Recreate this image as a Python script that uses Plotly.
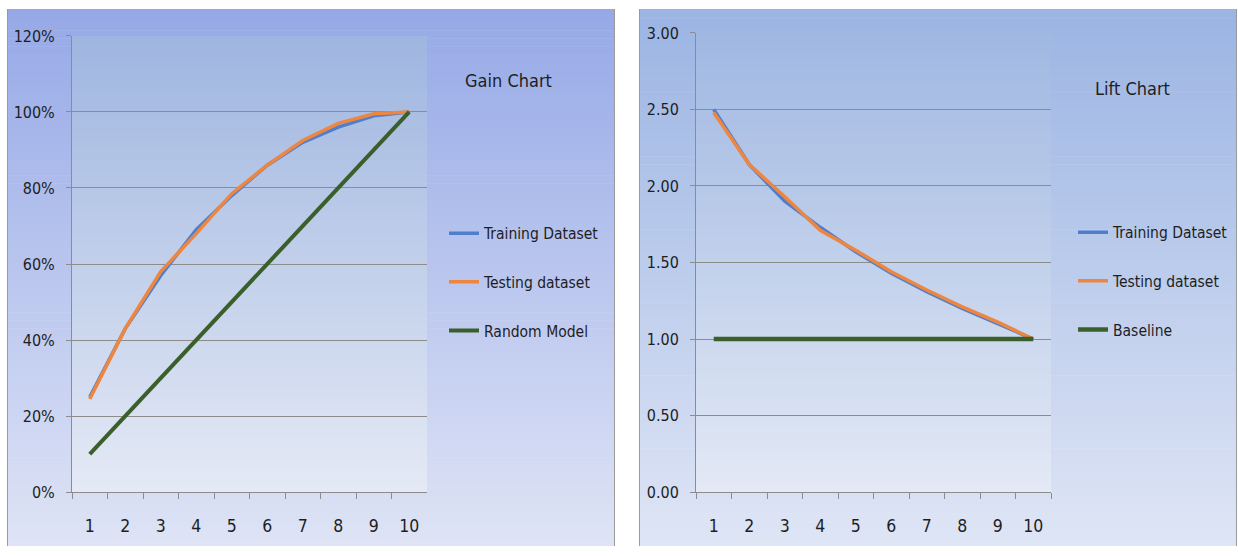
import plotly.graph_objects as go

# ---------------- data ----------------
deciles = ["1", "2", "3", "4", "5", "6", "7", "8", "9", "10"]

gain_training = [0.25, 0.43, 0.57, 0.69, 0.78, 0.86, 0.92, 0.96, 0.99, 1.00]
gain_testing = [0.245, 0.43, 0.58, 0.68, 0.785, 0.86, 0.925, 0.97, 0.995, 1.00]
gain_random = [0.10, 0.20, 0.30, 0.40, 0.50, 0.60, 0.70, 0.80, 0.90, 1.00]

lift_training = [2.50, 2.14, 1.90, 1.73, 1.57, 1.43, 1.31, 1.20, 1.10, 1.00]
lift_testing = [2.48, 2.14, 1.93, 1.71, 1.58, 1.44, 1.32, 1.21, 1.11, 1.00]
lift_baseline = [1.00, 1.00, 1.00, 1.00, 1.00, 1.00, 1.00, 1.00, 1.00, 1.00]

gain_ticks = [0, 0.2, 0.4, 0.6, 0.8, 1.0, 1.2]
lift_ticks = [0, 0.5, 1.0, 1.5, 2.0, 2.5, 3.0]

# ---------------- style ----------------
W, H = 1238, 556
FONT = "DejaVu Sans Condensed, Liberation Sans Narrow, Arial Narrow, sans-serif"
BLUE = "#4f7fcc"
ORANGE = "#ee8640"
GREEN = "#3b5f2b"
GRID = "#8c8c8c"
TXT = "#1e1e1e"

# vertical framing of the photographed page
SY, OY = 0.9676, 8.03


def px_x(v):
    return min(1.0, max(0.0, v / W))


def px_y(v):
    return min(1.0, max(0.0, 1 - (v - OY) / SY / H))


def hexrgb(h):
    h = h.lstrip("#")
    return tuple(int(h[i:i + 2], 16) for i in (0, 2, 4))


def gradient(x0, x1, y0, y1, c_top, c_bot, n=70):
    a, b = hexrgb(c_top), hexrgb(c_bot)
    out = []
    for i in range(n):
        t = i / (n - 1)
        c = tuple(round(a[k] + (b[k] - a[k]) * t) for k in range(3))
        ya = y0 + (y1 - y0) * i / n
        yb = min(y1, y0 + (y1 - y0) * (i + 1) / n + 0.6)
        out.append(dict(type="rect", xref="paper", yref="paper",
                        x0=px_x(x0), x1=px_x(x1), y0=px_y(yb), y1=px_y(ya),
                        fillcolor="rgb(%d,%d,%d)" % c, line_width=0, layer="below"))
    return out


shapes = []
shapes += gradient(7, 614, 5, 570, "#96a9e7", "#e1e6f6")
shapes += gradient(72, 427, 35, 492, "#9fb6e0", "#e4e9f5")
shapes += gradient(639, 1237, 1, 570, "#9bb4e3", "#e1e7f6")
shapes += gradient(696, 1051, 32, 492, "#a0b8e2", "#e3e9f5")
# panel borders (left and right edges; panels run off the bottom)
for (x0, x1) in [(7.5, 614.5), (639.5, 1236.5)]:
    shapes.append(dict(type="path", xref="paper", yref="paper",
                       path="M %f,%f L %f,%f M %f,%f L %f,%f" % (
                           px_x(x0), 0, px_x(x0), 1, px_x(x1), 0, px_x(x1), 1),
                       line=dict(color="#9a9a9a", width=1), layer="below"))

fig = go.Figure()

# gain chart traces
fig.add_trace(go.Scatter(x=deciles, y=gain_training, name="Training Dataset", mode="lines",
                         line=dict(color=BLUE, width=3.5), xaxis="x", yaxis="y",
                         legend="legend", legendgroup="g1"))
fig.add_trace(go.Scatter(x=deciles, y=gain_testing, name="Testing dataset", mode="lines",
                         line=dict(color=ORANGE, width=3.5), xaxis="x", yaxis="y",
                         legend="legend", legendgroup="g2"))
fig.add_trace(go.Scatter(x=deciles, y=gain_random, name="Random Model", mode="lines",
                         line=dict(color=GREEN, width=4), xaxis="x", yaxis="y",
                         legend="legend", legendgroup="g3"))

# lift chart traces
fig.add_trace(go.Scatter(x=deciles, y=lift_training, name="Training Dataset", mode="lines",
                         line=dict(color=BLUE, width=3.5), xaxis="x2", yaxis="y2",
                         legend="legend2", legendgroup="l1"))
fig.add_trace(go.Scatter(x=deciles, y=lift_testing, name="Testing dataset", mode="lines",
                         line=dict(color=ORANGE, width=3.5), xaxis="x2", yaxis="y2",
                         legend="legend2", legendgroup="l2"))
fig.add_trace(go.Scatter(x=deciles, y=lift_baseline, name="Baseline", mode="lines",
                         line=dict(color=GREEN, width=4.5), xaxis="x2", yaxis="y2",
                         legend="legend2", legendgroup="l3"))

xcommon = dict(type="category", categoryorder="array", categoryarray=deciles,
               range=[-0.5, 9.5],
               showgrid=False, showline=True, linecolor=GRID, linewidth=1,
               ticks="outside", ticklen=6, tickcolor=GRID, tickson="boundaries",
               tickfont=dict(family=FONT, size=17.5, color=TXT), ticklabelstandoff=18,
               zeroline=False, fixedrange=True)
ycommon = dict(showgrid=True, gridcolor=GRID, gridwidth=1, showline=True,
               linecolor=GRID, linewidth=1, ticks="outside", ticklen=5, tickcolor=GRID,
               tickfont=dict(family=FONT, size=16, color=TXT), ticklabelstandoff=8,
               zeroline=False, fixedrange=True)

leg = dict(font=dict(family=FONT, size=15.5, color=TXT), bgcolor="rgba(0,0,0,0)",
           borderwidth=0, traceorder="grouped", tracegroupgap=25.5, xanchor="left",
           yanchor="top", itemwidth=30)

fig.update_layout(
    width=W, height=H,
    margin=dict(l=0, r=0, t=0, b=0),
    paper_bgcolor="white", plot_bgcolor="rgba(0,0,0,0)",
    showlegend=True,
    shapes=shapes,
    xaxis=dict(xcommon, domain=[px_x(72), px_x(427)], anchor="y"),
    yaxis=dict(ycommon, domain=[px_y(492), px_y(35)], anchor="x",
               range=[0, 1.2], tickvals=gain_ticks, tickformat=".0%"),
    xaxis2=dict(xcommon, domain=[px_x(696), px_x(1051)], anchor="y2"),
    yaxis2=dict(ycommon, domain=[px_y(492), px_y(32)], anchor="x2",
                range=[0, 3.0], tickvals=lift_ticks, tickformat=".2f"),
    legend=dict(leg, x=px_x(444), y=px_y(216)),
    legend2=dict(leg, x=px_x(1073), y=px_y(215)),
    annotations=[
        dict(text="Gain Chart", xref="paper", yref="paper", x=px_x(508), y=px_y(80),
             showarrow=False, xanchor="center", yanchor="middle",
             font=dict(family=FONT, size=18, color=TXT)),
        dict(text="Lift Chart", xref="paper", yref="paper", x=px_x(1132), y=px_y(88),
             showarrow=False, xanchor="center", yanchor="middle",
             font=dict(family=FONT, size=18, color=TXT)),
    ],
)

fig.write_html(
    "out.html",
    config={"displayModeBar": False},
    post_script=("document.body.style.margin='0';"
                 "document.body.style.overflow='hidden';"
                 "document.documentElement.style.overflow='hidden';"),
)
